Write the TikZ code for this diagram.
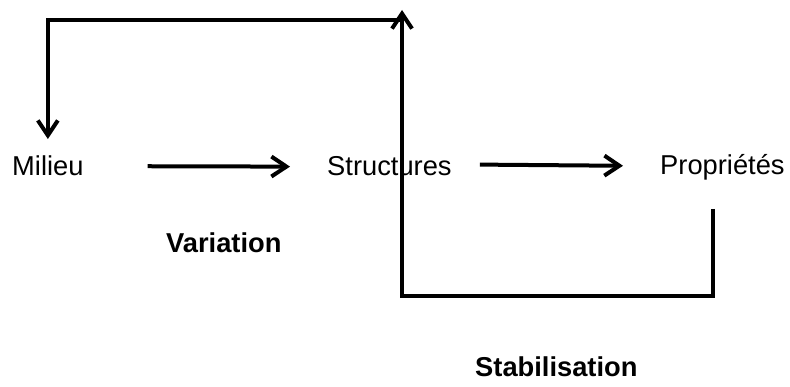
\documentclass[tikz,border=0pt]{standalone}
\usepackage{fontspec}
\setmainfont{Liberation Sans}
\usetikzlibrary{arrows.meta}
\begin{document}
\begin{tikzpicture}[x=1pt,y=-1pt,
  lbl/.style={anchor=base west,inner sep=0pt,font=\fontsize{27.3}{30}\selectfont},
  blbl/.style={lbl,font=\fontsize{27.3}{30}\selectfont\bfseries},
  conn/.style={line width=4pt},
  arr/.style={conn,-{Straight Barb[length=15pt,width=20pt,line width=4pt]}}]
\useasboundingbox (0,0) rectangle (790,387);
\node[lbl] (mil) at (12,176) {Milieu};
\node[lbl] (str) at (327,176) {Structures};
\node[lbl] (pro) at (660,175) {Propriétés};
\node[blbl] (var) at (166,253) {Variation};
\node[blbl] (sta) at (475,377) {Stabilisation};
\coordinate (p1) at (713,209);
\coordinate (c1) at (402,296);
\coordinate (tip) at (402,10);
\coordinate (j) at (402,20);
\draw[arr] ([xshift=64pt]mil.east) -- ([xshift=-37pt]str.west);
\draw[arr] ([xshift=28pt,yshift=2pt]str.east) -- ([xshift=-37pt,yshift=2pt]pro.west);
\draw[arr] (p1) |- (c1) -- (tip);
\draw[arr] (j) -| ([yshift=17pt]mil.north);
\end{tikzpicture}
\end{document}
